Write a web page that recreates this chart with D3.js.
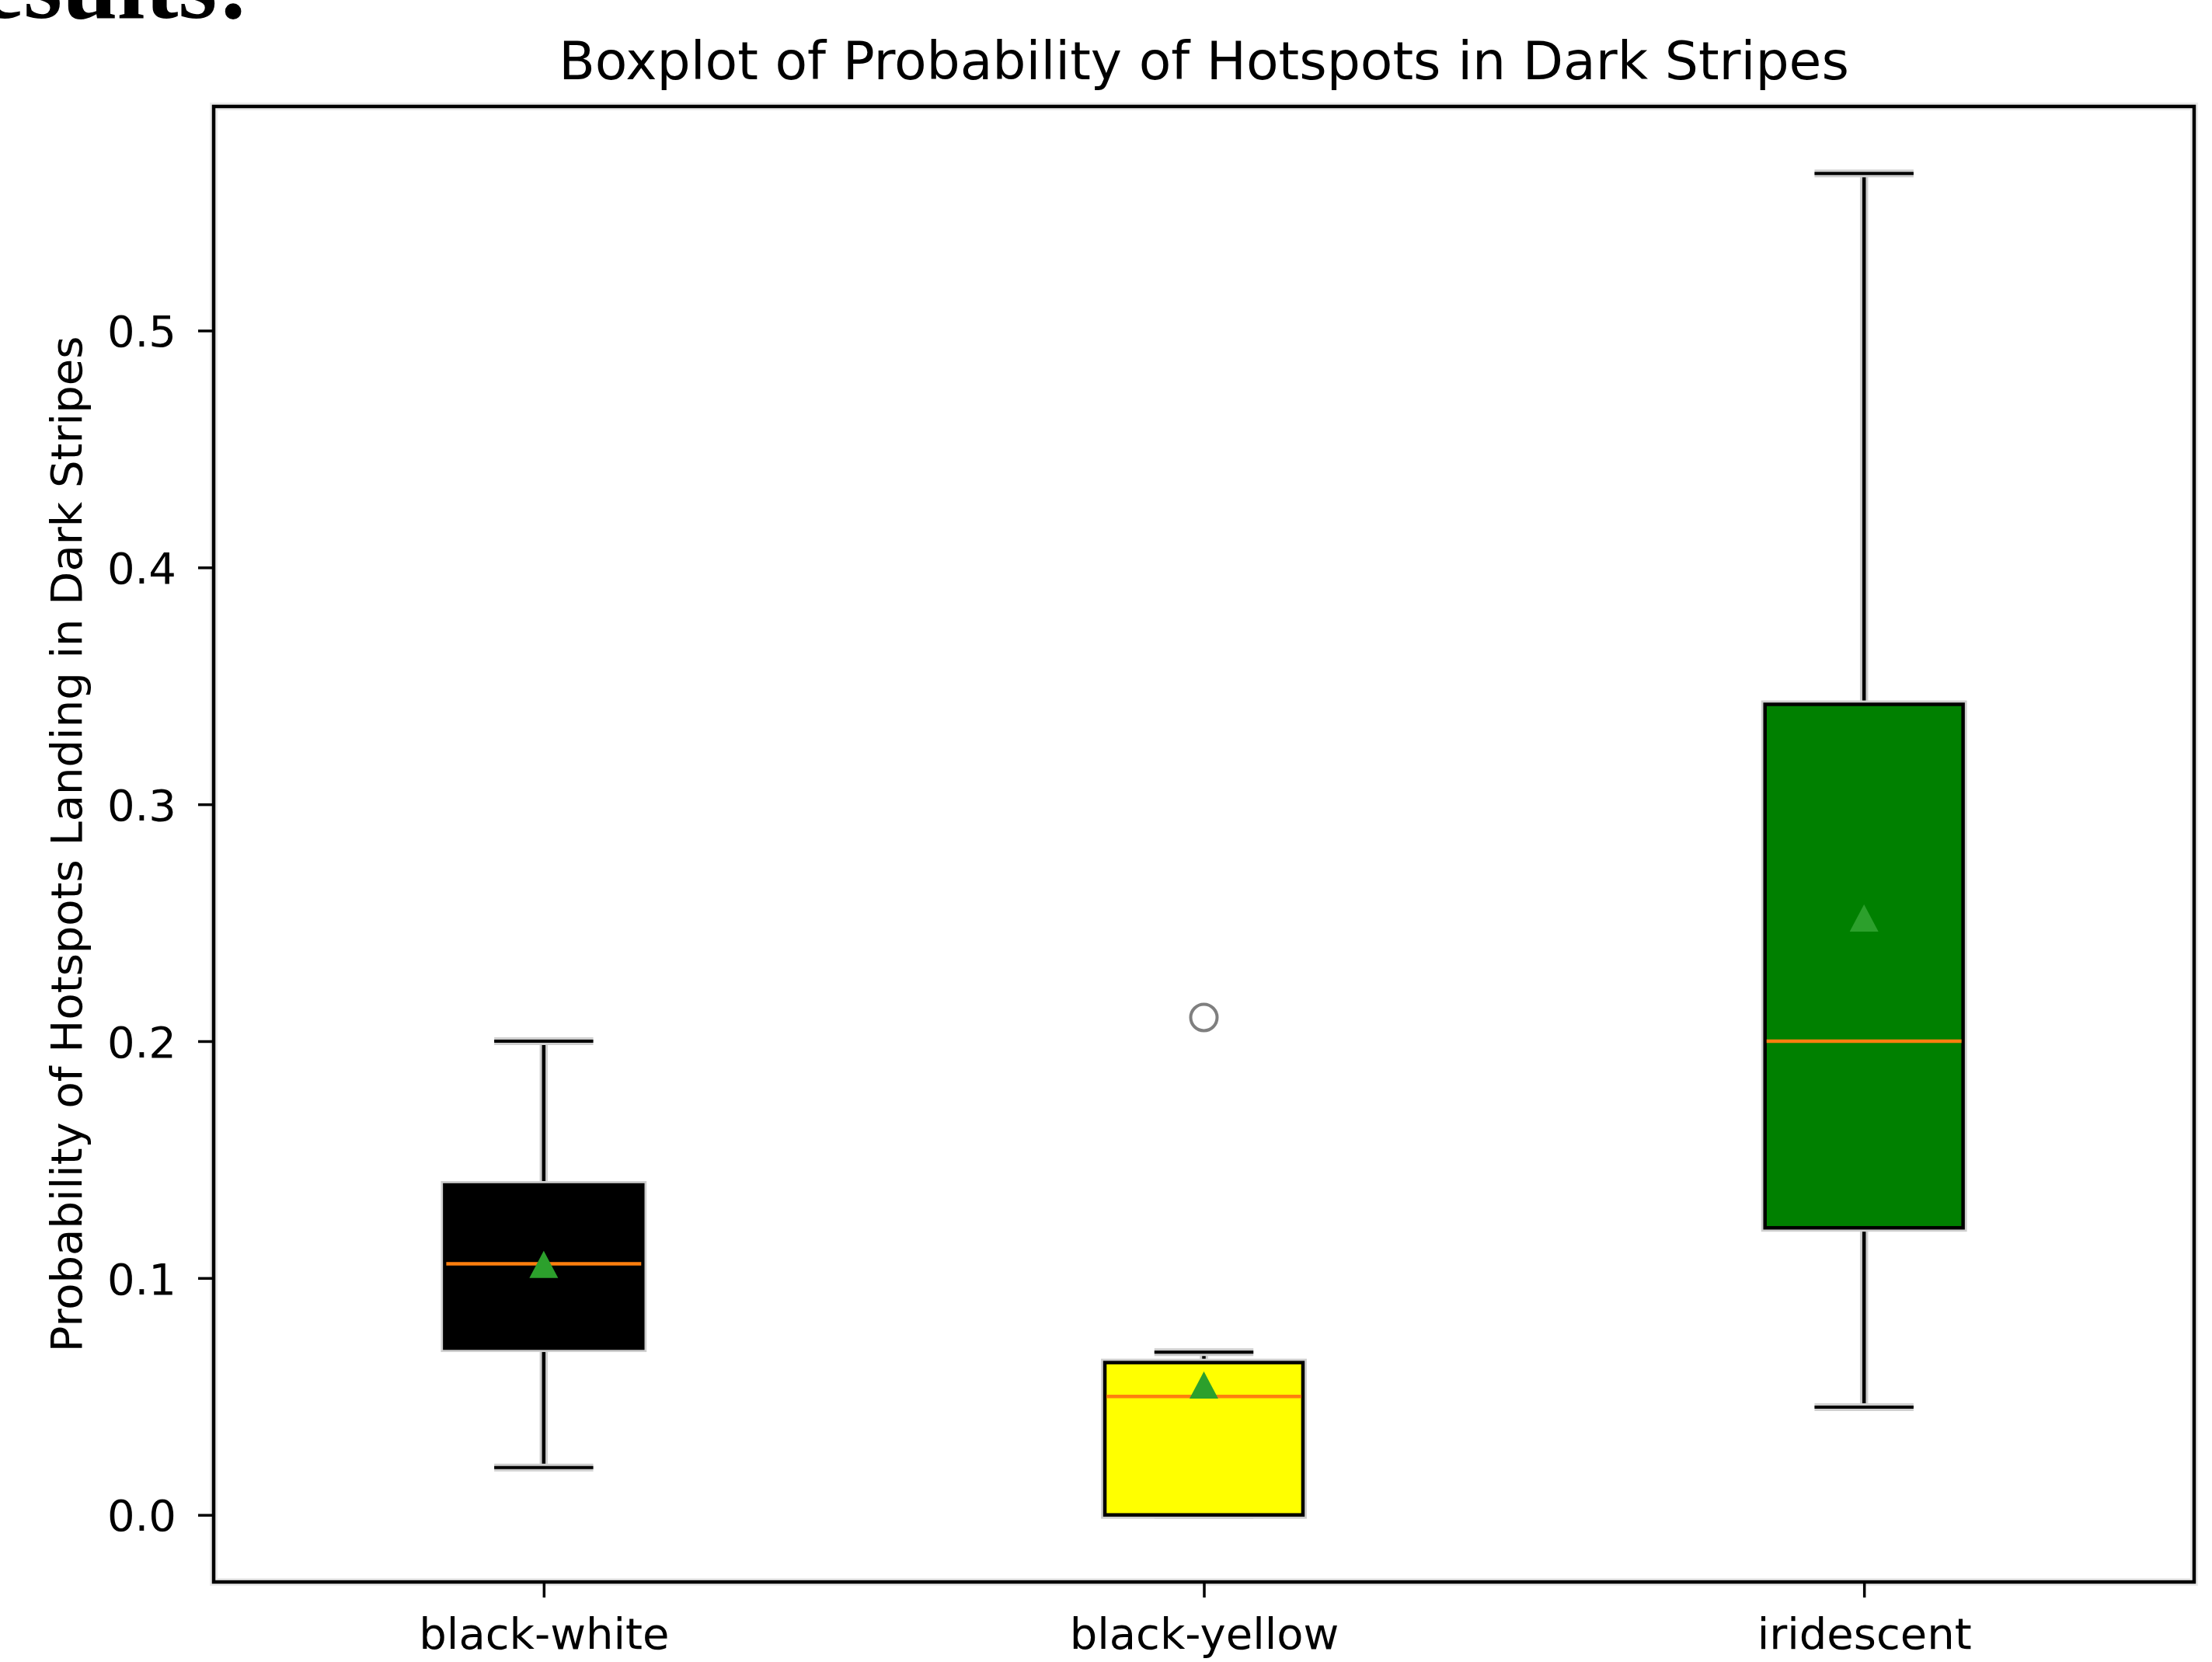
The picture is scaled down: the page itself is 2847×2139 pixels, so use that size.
<!DOCTYPE html>
<html>
<head>
<meta charset="utf-8">
<script src="https://cdn.jsdelivr.net/npm/d3@7"></script>
<style>
  html, body { margin: 0; padding: 0; background: #ffffff; overflow: hidden; }
  svg { display: block; }
</style>
</head>
<body>
<svg id="chart" width="2847" height="2139"></svg>
<script>
// ---- data ----
const categories   = ["black-white", "black-yellow", "iridescent"];
const whiskerLow   = [0.020, 0.000, 0.0455];
const q1           = [0.0704, 0.000, 0.1212];
const medians      = [0.106, 0.050, 0.200];
const q3           = [0.1393, 0.0643, 0.3422];
const whiskerHigh  = [0.200, 0.0687, 0.5663];
const means        = [0.1058, 0.0548, 0.252];
const outliers     = [[], [0.210], []];
const boxFills     = ["#000000", "#ffff00", "#008000"];
const yTickValues  = [0.0, 0.1, 0.2, 0.3, 0.4, 0.5];
const yTickLabels  = ["0.0", "0.1", "0.2", "0.3", "0.4", "0.5"];
const titleText    = "Boxplot of Probability of Hotspots in Dark Stripes";
const yLabelText   = "Probability of Hotspots Landing in Dark Stripes";
const headingText  = "Results:";

// ---- layout ----
const frame = { left: 275, right: 2824, top: 137, bottom: 2036 };
const svg = d3.select("#chart");
const font = "'DejaVu Sans', sans-serif";

const positions = categories.map((c, i) => i + 1);
const x = d3.scaleLinear().domain([0.5, 3.5]).range([frame.left, frame.right]);
const dataMax = d3.max(whiskerHigh.concat(outliers.flat()));
const y = d3.scaleLinear().domain([-0.05 * dataMax, 1.05 * dataMax]).range([frame.bottom, frame.top]);

const boxW = x(0.15) - x(0);   // half box width (box width 0.3)
const capW = x(0.075) - x(0);  // half cap width

// heading cut off at the top of the page
svg.append("text")
  .attr("x", -119).attr("y", 23)
  .attr("font-family", "'Liberation Serif', 'Times New Roman', serif")
  .attr("font-weight", "bold")
  .attr("font-size", 128)
  .attr("fill", "#000")
  .text(headingText);

// title
svg.append("text")
  .attr("x", (frame.left + frame.right) / 2).attr("y", 102)
  .attr("text-anchor", "middle")
  .attr("font-family", font).attr("font-size", 68)
  .attr("fill", "#000")
  .text(titleText);

// y label
svg.append("text")
  .attr("transform", `translate(105, ${(frame.top + frame.bottom) / 2}) rotate(-90)`)
  .attr("text-anchor", "middle")
  .attr("font-family", font).attr("font-size", 56)
  .attr("fill", "#000")
  .text(yLabelText);

const plot = svg.append("g");

// helper for haloed lines
function haloLine(g, x1, y1, x2, y2, w) {
  g.append("line").attr("x1", x1).attr("y1", y1).attr("x2", x2).attr("y2", y2)
    .attr("stroke", "#cfcfcf").attr("stroke-width", w + 6).attr("stroke-linecap", "butt");
  g.append("line").attr("x1", x1).attr("y1", y1).attr("x2", x2).attr("y2", y2)
    .attr("stroke", "#000").attr("stroke-width", w).attr("stroke-linecap", "butt");
}

categories.forEach((cat, i) => {
  const g = plot.append("g");
  const cx = x(positions[i]);
  // whiskers
  haloLine(g, cx, y(q3[i]), cx, y(whiskerHigh[i]), 4.5);
  haloLine(g, cx, y(q1[i]), cx, y(whiskerLow[i]), 4.5);
  // caps
  haloLine(g, cx - capW, y(whiskerHigh[i]), cx + capW, y(whiskerHigh[i]), 4);
  haloLine(g, cx - capW, y(whiskerLow[i]), cx + capW, y(whiskerLow[i]), 4);
  // box
  const bx = cx - boxW, by = y(q3[i]), bw = 2 * boxW, bh = y(q1[i]) - y(q3[i]);
  g.append("rect").attr("x", bx).attr("y", by).attr("width", bw).attr("height", bh)
    .attr("fill", "none").attr("stroke", "#cfcfcf").attr("stroke-width", 10);
  g.append("rect").attr("x", bx).attr("y", by).attr("width", bw).attr("height", bh)
    .attr("fill", boxFills[i]).attr("stroke", "#000").attr("stroke-width", 4.5);
  // median
  g.append("line")
    .attr("x1", bx + 2).attr("x2", bx + bw - 2)
    .attr("y1", y(medians[i])).attr("y2", y(medians[i]))
    .attr("stroke", "#ff7f0e").attr("stroke-width", 4.5);
  // mean marker (triangle up)
  const mx = cx, my = y(means[i]), tw = 37, th = 35;
  g.append("path")
    .attr("d", `M${mx},${my - th / 2}L${mx - tw / 2},${my + th / 2}L${mx + tw / 2},${my + th / 2}Z`)
    .attr("fill", "#2ca02c");
  // outliers
  outliers[i].forEach(v => {
    g.append("circle").attr("cx", cx).attr("cy", y(v)).attr("r", 17)
      .attr("fill", "none").attr("stroke", "#7f7f7f").attr("stroke-width", 4);
  });
});

// frame (axes spines) with halo
svg.append("rect")
  .attr("x", frame.left).attr("y", frame.top)
  .attr("width", frame.right - frame.left).attr("height", frame.bottom - frame.top)
  .attr("fill", "none").attr("stroke", "#ececec").attr("stroke-width", 10);
svg.append("rect")
  .attr("x", frame.left).attr("y", frame.top)
  .attr("width", frame.right - frame.left).attr("height", frame.bottom - frame.top)
  .attr("fill", "none").attr("stroke", "#000").attr("stroke-width", 4.5);

// y axis
const yAxis = d3.axisLeft(y)
  .tickValues(yTickValues)
  .tickFormat((d, i) => yTickLabels[i])
  .tickSize(20).tickSizeOuter(0).tickPadding(28);
const gy = svg.append("g").attr("transform", `translate(${frame.left},0)`).call(yAxis);
gy.select(".domain").remove();
gy.selectAll(".tick line").attr("stroke", "#000").attr("stroke-width", 3.5);
gy.selectAll(".tick text")
  .attr("font-family", font).attr("font-size", 56).attr("fill", "#000")
  .attr("dy", "0.36em");

// x axis
const xAxis = d3.axisBottom(x)
  .tickValues(positions)
  .tickFormat((d) => categories[d - 1])
  .tickSize(20).tickSizeOuter(0);
const gx = svg.append("g").attr("transform", `translate(0,${frame.bottom})`).call(xAxis);
gx.select(".domain").remove();
gx.selectAll(".tick line").attr("stroke", "#000").attr("stroke-width", 3.5);
gx.selectAll(".tick text")
  .attr("font-family", font).attr("font-size", 56).attr("fill", "#000")
  .attr("y", 86).attr("dy", 0);
</script>
</body>
</html>
